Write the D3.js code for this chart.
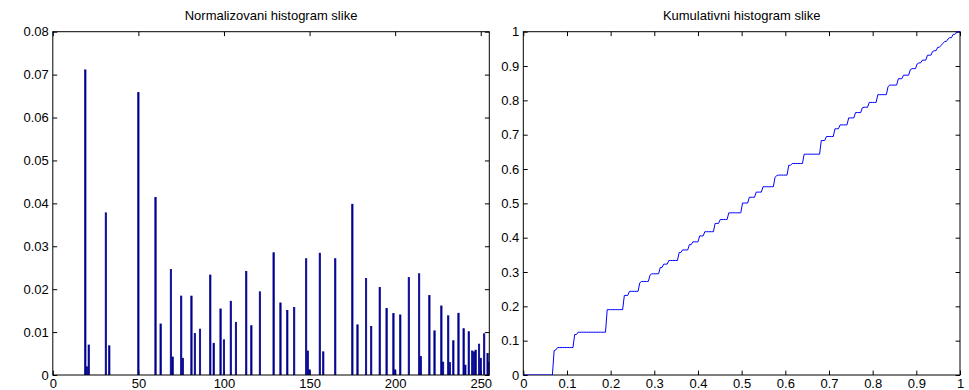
<!DOCTYPE html>
<html><head><meta charset="utf-8">
<script src="https://cdn.jsdelivr.net/npm/d3@7"></script>
<style>
body{margin:0;background:#fff}
svg{display:block}
text{font-family:"Liberation Sans",Arial,Helvetica,sans-serif;fill:#000}
</style>
</head><body>
<svg id="c" width="969" height="390"></svg>
<script>
// Histogram bins (1-based bin index k = gray level k-1) and normalized frequencies
const bins = [19,20,21,31,33,50,60,63,69,70,75,76,81,83,86,92,94,98,100,104,107,113,116,121,129,133,137,141,148,149,150,156,158,165,175,178,183,186,191,195,199,200,203,208,214,215,220,223,227,228,231,232,234,237,240,241,243,245,246,247,249,250,252,254,255];
const probs = [0.0711,0.0019,0.0070,0.0378,0.0068,0.0658,0.0414,0.0119,0.0246,0.0042,0.0184,0.0039,0.0184,0.0097,0.0107,0.0233,0.0074,0.0154,0.0082,0.0172,0.0123,0.0241,0.0115,0.0194,0.0285,0.0168,0.0150,0.0157,0.0271,0.0056,0.0012,0.0284,0.0054,0.0271,0.0398,0.0117,0.0225,0.0113,0.0204,0.0155,0.0143,0.0012,0.0140,0.0227,0.0236,0.0043,0.0185,0.0103,0.0161,0.0030,0.0138,0.0029,0.0080,0.0144,0.0108,0.0023,0.0101,0.0056,0.0054,0.0058,0.0072,0.0039,0.0096,0.0050,0.0030];
const grayLevels = d3.range(256);
const histXTicks = [0,50,100,150,200,250];
const histYTicks = [0,0.01,0.02,0.03,0.04,0.05,0.06,0.07,0.08];
const cumXTicks = [0,0.1,0.2,0.3,0.4,0.5,0.6,0.7,0.8,0.9,1];
const cumYTicks = [0,0.1,0.2,0.3,0.4,0.5,0.6,0.7,0.8,0.9,1];
const titles = ["Normalizovani histogram slike","Kumulativni histogram slike"];

const svg = d3.select("#c");
const L = {x0:52.8,x1:489.3,y0:31.7,y1:375};
const R = {x0:523.3,x1:960,y0:31.7,y1:375};
const TICK = 4.4;
const FS = 13;

const xH = d3.scaleLinear().domain([0,255]).range([L.x0,L.x1]);
const yH = d3.scaleLinear().domain([0,0.08]).range([L.y1,L.y0]);
const xC = d3.scaleLinear().domain([0,1]).range([R.x0,R.x1]);
const yC = d3.scaleLinear().domain([0,1]).range([R.y1,R.y0]);

const fmt = d3.format("~g");

const defs = svg.append("defs");
defs.append("clipPath").attr("id","clipL").append("rect")
  .attr("x",L.x0).attr("y",L.y0).attr("width",L.x1-L.x0).attr("height",L.y1-L.y0);
defs.append("clipPath").attr("id","clipR").append("rect")
  .attr("x",R.x0).attr("y",R.y0-1).attr("width",R.x1-R.x0+1).attr("height",R.y1-R.y0+1);

function drawAxes(P, xs, ys, xt, yt, title){
  const g = svg.append("g");
  g.append("rect").attr("x",P.x0).attr("y",P.y0).attr("width",P.x1-P.x0).attr("height",P.y1-P.y0)
    .attr("fill","#fff").attr("stroke","none");
  const bottom = g.append("g").attr("transform",`translate(0,${P.y1})`)
    .call(d3.axisBottom(xs).tickValues(xt).tickSize(-TICK).tickSizeOuter(0).tickPadding(4).tickFormat(fmt));
  const top = g.append("g").attr("transform",`translate(0,${P.y0})`)
    .call(d3.axisTop(xs).tickValues(xt).tickSize(-TICK).tickSizeOuter(0).tickFormat(""));
  const left = g.append("g").attr("transform",`translate(${P.x0},0)`)
    .call(d3.axisLeft(ys).tickValues(yt).tickSize(-TICK).tickSizeOuter(0).tickPadding(4).tickFormat(fmt));
  const right = g.append("g").attr("transform",`translate(${P.x1},0)`)
    .call(d3.axisRight(ys).tickValues(yt).tickSize(-TICK).tickSizeOuter(0).tickFormat(""));
  [bottom,top,left,right].forEach(a=>{
    a.select(".domain").remove();
    a.selectAll("line").attr("stroke","#000").attr("stroke-width",1);
    a.selectAll("text").attr("font-size",FS).attr("font-family",'"Liberation Sans",Arial,sans-serif').attr("fill","#000");
  });
  svg.append("text").attr("x",(P.x0+P.x1)/2).attr("y",20).attr("text-anchor","middle")
    .attr("font-size",FS).text(title);
  return g;
}

function drawBox(P){
  svg.append("rect").attr("x",P.x0).attr("y",P.y0).attr("width",P.x1-P.x0).attr("height",P.y1-P.y0)
    .attr("fill","none").attr("stroke","#000").attr("stroke-width",1);
}

// Left: normalized histogram
drawAxes(L, xH, yH, histXTicks, histYTicks, titles[0]);
const bw = xH(0.8)-xH(0);
svg.append("g").attr("clip-path","url(#clipL)").selectAll("rect")
  .data(bins.map((b,i)=>({b, v:probs[i]})))
  .join("rect")
  .attr("x",d=>xH(d.b)-bw/2)
  .attr("width",bw)
  .attr("y",d=>yH(d.v))
  .attr("height",d=>yH(0)-yH(d.v))
  .attr("fill","#00008F")
  .attr("stroke","#00008F")
  .attr("stroke-width",0.7);
drawBox(L);

// Right: cumulative histogram (cumulative sum of the histogram above)
drawAxes(R, xC, yC, cumXTicks, cumYTicks, titles[1]);
drawBox(R);
const full = new Array(257).fill(0);
bins.forEach((b,i)=>{ full[b] += probs[i]; });
const cum = d3.cumsum(full);
const cumPts = grayLevels.map(g=>({x:g/255, y:cum[g+1]}));
svg.append("path").attr("clip-path","url(#clipR)")
  .datum(cumPts)
  .attr("d", d3.line().x(d=>xC(d.x)).y(d=>yC(d.y)))
  .attr("fill","none").attr("stroke","#0000FF").attr("stroke-width",1);
</script>
</body></html>
